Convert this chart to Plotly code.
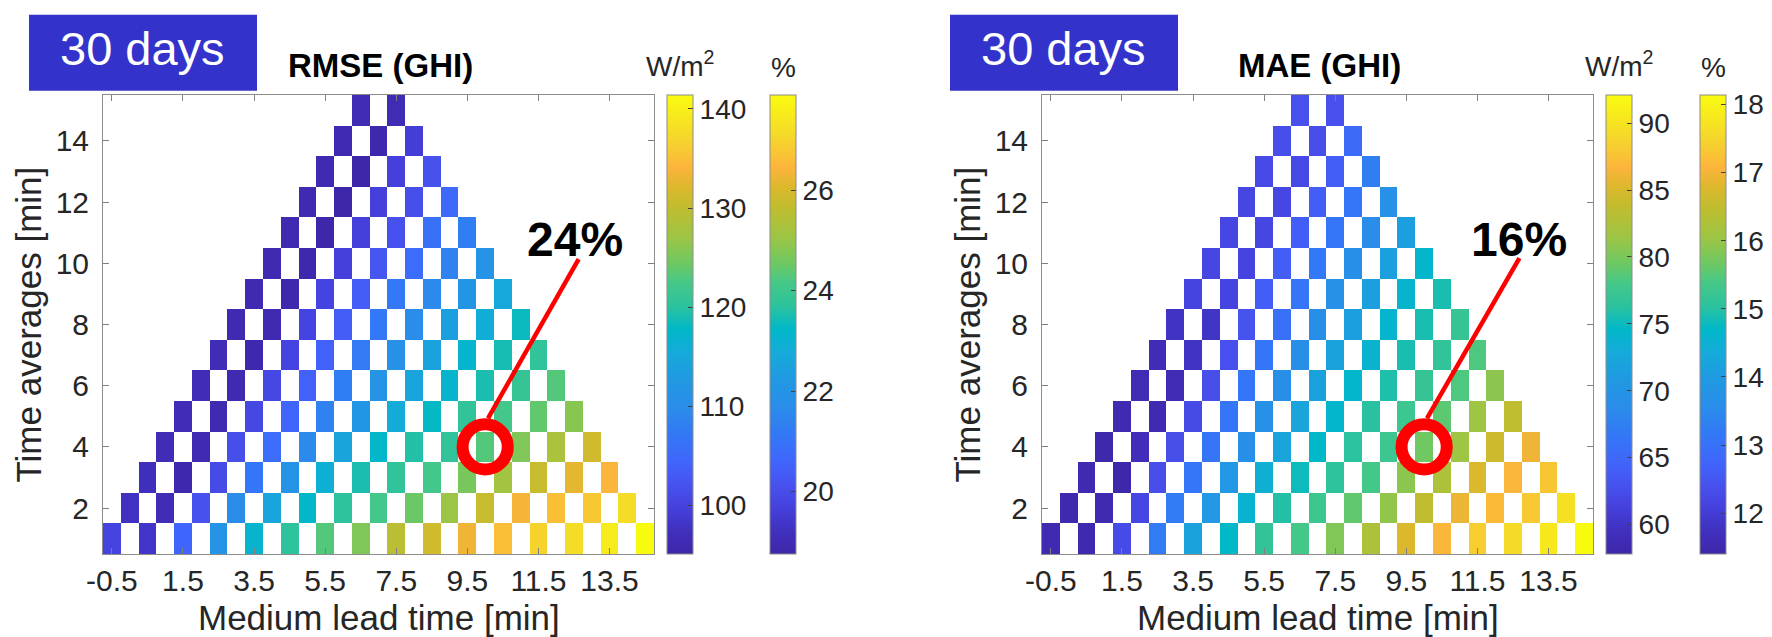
import plotly.graph_objects as go

W, H = 1772, 637

# ---------------- data ----------------
lead_times = [-0.5, 0.0, 0.5, 1.0, 1.5, 2.0, 2.5, 3.0, 3.5, 4.0, 4.5, 5.0, 5.5, 6.0, 6.5,
              7.0, 7.5, 8.0, 8.5, 9.0, 9.5, 10.0, 10.5, 11.0, 11.5, 12.0, 12.5, 13.0, 13.5,
              14.0, 14.5]
time_avgs = [1, 2, 3, 4, 5, 6, 7, 8, 9, 10, 11, 12, 13, 14, 15]
x_ticks = [-0.5, 1.5, 3.5, 5.5, 7.5, 9.5, 11.5, 13.5]
x_tick_text = ["-0.5", "1.5", "3.5", "5.5", "7.5", "9.5", "11.5", "13.5"]
y_ticks = [2, 4, 6, 8, 10, 12, 14]

# RMSE (W/m2); row i = time average i+1, listed left to right (checkerboard cells only)
rmse_rows = [
    [100.2, 98.3, 104.4, 111.3, 117.1, 120.3, 123.1, 125.4, 129.4, 131.2, 133.3, 134.9, 136.8, 137.7, 139.5, 141.4],
    [97.6, 96.7, 102.0, 109.9, 114.5, 117.6, 120.3, 122.2, 124.3, 127.0, 130.5, 133.5, 134.9, 135.8, 137.7],
    [97.2, 95.6, 101.1, 106.7, 111.3, 116.2, 119.2, 120.6, 122.2, 125.0, 127.5, 130.5, 132.6, 134.2],
    [96.7, 96.0, 101.6, 105.5, 109.5, 114.5, 117.6, 119.6, 120.6, 123.1, 125.4, 128.2, 131.2],
    [96.7, 96.0, 100.7, 104.4, 108.5, 111.8, 115.5, 118.0, 120.6, 122.2, 123.8, 125.9],
    [96.7, 96.0, 100.7, 103.9, 108.1, 111.3, 114.5, 117.1, 119.2, 121.0, 123.1],
    [96.7, 95.6, 100.2, 103.9, 107.6, 110.8, 114.1, 117.1, 118.9, 120.6],
    [96.0, 96.0, 100.2, 103.4, 107.1, 109.9, 113.6, 115.9, 118.3],
    [96.0, 95.6, 100.2, 103.4, 107.1, 109.5, 111.8, 115.0],
    [96.0, 95.6, 99.7, 102.5, 105.5, 108.5, 111.3],
    [96.0, 95.3, 99.7, 102.0, 106.0, 108.1],
    [96.0, 95.1, 99.7, 101.6, 105.1],
    [96.0, 95.1, 99.7, 102.0],
    [96.0, 95.6, 99.3],
    [96.4, 96.4],
]

# MAE (W/m2)
mae_rows = [
    [58.5, 58.3, 62.3, 67.1, 71.9, 74.6, 76.7, 77.9, 80.3, 82.5, 85.2, 86.8, 88.3, 89.2, 90.4, 92.1],
    [58.3, 58.5, 61.9, 67.1, 70.5, 73.9, 76.0, 77.4, 79.1, 81.0, 83.7, 85.8, 87.1, 88.0, 89.7],
    [58.5, 58.0, 62.6, 66.5, 70.5, 73.4, 75.1, 76.5, 77.9, 80.8, 82.5, 85.2, 86.8, 87.8],
    [58.1, 59.2, 62.6, 66.5, 69.1, 72.2, 74.6, 76.3, 77.4, 79.6, 81.5, 84.4, 86.1],
    [58.5, 58.5, 62.3, 66.5, 69.5, 72.2, 74.3, 76.2, 77.4, 78.9, 81.5, 83.7],
    [58.8, 58.8, 62.6, 66.5, 69.1, 71.9, 74.3, 75.8, 77.0, 78.4, 80.8],
    [59.0, 59.9, 62.8, 66.5, 69.1, 71.9, 73.9, 75.6, 76.7, 78.4],
    [59.9, 60.0, 63.0, 66.0, 69.1, 71.5, 74.1, 75.6, 77.0],
    [61.6, 61.6, 64.0, 66.5, 69.5, 71.5, 74.1, 75.6],
    [61.9, 61.6, 64.0, 66.7, 69.1, 71.5, 74.3],
    [61.9, 61.9, 64.0, 66.5, 68.8, 71.5],
    [61.9, 61.9, 64.0, 66.5, 69.5],
    [62.1, 62.1, 64.0, 67.4],
    [62.6, 62.6, 65.3],
    [62.8, 62.8],
]

# colour-bar limits
rmse_wm2_range = [95.1, 141.4]
rmse_pct_range = [18.76, 27.89]
mae_wm2_range = [57.8, 92.1]
mae_pct_range = [11.40, 18.14]
rmse_wm2_ticks = [100, 110, 120, 130, 140]
rmse_pct_ticks = [20, 22, 24, 26]
mae_wm2_ticks = [60, 65, 70, 75, 80, 85, 90]
mae_pct_ticks = [12, 13, 14, 15, 16, 17, 18]

highlight_cell = (10, 4)
labels = ["24%", "16%"]
titles = ["RMSE (GHI)", "MAE (GHI)"]
x_title = "Medium lead time [min]"
y_title = "Time averages [min]"

# ---------------- style ----------------
FONT = "Liberation Sans, Arial, Helvetica, sans-serif"
TXT = "#262626"
parula = [
    [0.00, "#3E26A8"], [0.05, "#4030BE"], [0.10, "#4540DC"], [0.15, "#4752EE"],
    [0.20, "#4065FC"], [0.26, "#3378F6"], [0.32, "#2A8DEA"], [0.38, "#2099E2"],
    [0.44, "#15ABD9"], [0.49, "#00B8C8"], [0.54, "#2CC29E"], [0.59, "#45C888"],
    [0.63, "#6BC865"], [0.69, "#9DC544"], [0.76, "#C3BC2E"], [0.80, "#DDB82C"],
    [0.84, "#FCB43C"], [0.91, "#F5D82A"], [1.00, "#F9FB0F"],
]

def px_x(p):
    return p / W

def px_y(p):
    return 1 - p / H

def grid(rows):
    z = [[None] * len(lead_times) for _ in time_avgs]
    for r, vals in enumerate(rows):
        for k, v in enumerate(vals):
            z[r][r + 2 * k] = v
    return z

panels = [
    dict(rows=rmse_rows, wr=rmse_wm2_range, pr=rmse_pct_range, wt=rmse_wm2_ticks, pt=rmse_pct_ticks,
         left=95, cb1=659, cb2=762, box=21, lab=(12.54, 10.79), line_end=(12.63, 10.14)),
    dict(rows=mae_rows, wr=mae_wm2_range, pr=mae_pct_range, wt=mae_wm2_ticks, pt=mae_pct_ticks,
         left=1034, cb1=1598, cb2=1692, box=942, lab=(12.67, 10.79), line_end=(12.68, 10.17)),
]

PW = 551
TOP, BOT = 87, 546

fig = go.Figure()
shapes = []
annotations = []

for i, p in enumerate(panels):
    xa = "x" if i == 0 else "x2"
    ya = "y" if i == 0 else "y2"
    cbar_common = dict(
        thickness=26, thicknessmode="pixels", len=(BOT - TOP) / H, lenmode="fraction",
        y=px_y(BOT), yanchor="bottom", xanchor="left", xpad=0, ypad=0,
        outlinewidth=1, outlinecolor="#8c8c8c", ticks="inside", ticklen=5,
        tickcolor="#404040", tickprefix="\u2009",
        tickfont=dict(family=FONT, size=28, color=TXT),
    )
    fig.add_trace(go.Heatmap(
        x=lead_times, y=time_avgs, z=grid(p["rows"]), xaxis=xa, yaxis=ya,
        colorscale=parula, zmin=p["wr"][0], zmax=p["wr"][1], hoverongaps=False,
        colorbar=dict(x=px_x(p["cb1"]), tickvals=p["wt"], **cbar_common),
    ))
    fig.add_trace(go.Scatter(
        x=[None, None], y=[None, None], xaxis=xa, yaxis=ya, mode="markers", showlegend=False,
        marker=dict(color=p["pr"], cmin=p["pr"][0], cmax=p["pr"][1], colorscale=parula,
                    showscale=True,
                    colorbar=dict(x=px_x(p["cb2"]), tickvals=p["pt"], **cbar_common)),
    ))

    fig.layout["xaxis" if i == 0 else "xaxis2"] = dict(
        domain=[px_x(p["left"]), px_x(p["left"] + PW)], range=[-0.75, 14.75], anchor=ya,
        tickvals=x_ticks, ticktext=x_tick_text, ticks="inside", ticklen=6, tickcolor="#7f7f7f",
        showline=True, linecolor="#8c8c8c", linewidth=1, mirror="allticks",
        showgrid=False, zeroline=False, ticklabelstandoff=0,
        tickfont=dict(family=FONT, size=30, color=TXT),
    )
    fig.layout["yaxis" if i == 0 else "yaxis2"] = dict(
        domain=[px_y(BOT), px_y(TOP)], range=[0.5, 15.5], anchor=xa,
        tickvals=y_ticks, ticks="inside", ticklen=6, tickcolor="#7f7f7f",
        showline=True, linecolor="#8c8c8c", linewidth=1, mirror="allticks",
        showgrid=False, zeroline=False, ticklabelstandoff=7,
        tickfont=dict(family=FONT, size=30, color=TXT),
    )

    # axis titles
    annotations.append(dict(text=x_title, xref="paper", yref="paper",
                            x=px_x(p["left"] + PW / 2), y=px_y(609), xanchor="center", yanchor="middle",
                            showarrow=False, font=dict(family=FONT, size=35, color=TXT)))
    annotations.append(dict(text=y_title, xref="paper", yref="paper", textangle=-90,
                            x=px_x(p["left"] - 75), y=px_y((TOP + BOT) / 2), xanchor="center", yanchor="middle",
                            showarrow=False, font=dict(family=FONT, size=35, color=TXT)))

    # "30 days" box
    shapes.append(dict(type="rect", xref="paper", yref="paper",
                       x0=px_x(p["box"]), x1=px_x(p["box"] + 228), y0=px_y(82.7), y1=px_y(6.7),
                       fillcolor="#3333CC", line=dict(width=0), layer="below"))
    annotations.append(dict(text="30 days", xref="paper", yref="paper",
                            x=px_x(p["box"] + 113), y=px_y(41), xanchor="center", yanchor="middle",
                            showarrow=False, font=dict(family=FONT, size=47, color="white")))
    # panel title
    annotations.append(dict(text="<b>%s</b>" % titles[i], xref="paper", yref="paper",
                            x=px_x(p["left"] + PW / 2 + 2), y=px_y(57), xanchor="center", yanchor="middle",
                            showarrow=False, font=dict(family=FONT, size=33, color="black")))
    # colour-bar units
    annotations.append(dict(text="W/m<sup>2</sup>", xref="paper", yref="paper",
                            x=px_x(p["cb1"] + 13), y=px_y(56), xanchor="center", yanchor="middle",
                            showarrow=False, font=dict(family=FONT, size=28, color=TXT)))
    annotations.append(dict(text="%", xref="paper", yref="paper",
                            x=px_x(p["cb2"] + 13), y=px_y(59), xanchor="center", yanchor="middle",
                            showarrow=False, font=dict(family=FONT, size=28, color=TXT)))
    # percentage label, pointer line and ring
    annotations.append(dict(text="<b>%s</b>" % labels[i], xref=xa, yref=ya,
                            x=p["lab"][0], y=p["lab"][1], xanchor="center", yanchor="middle",
                            showarrow=False, font=dict(family=FONT, size=48, color="black")))
    shapes.append(dict(type="line", xref=xa, yref=ya,
                       x0=highlight_cell[0] + 0.08, y0=highlight_cell[1] + 0.93,
                       x1=p["line_end"][0], y1=p["line_end"][1],
                       line=dict(color="#FF0000", width=4.5)))
    shapes.append(dict(type="circle", xref=xa, yref=ya, xsizemode="pixel", ysizemode="pixel",
                       xanchor=highlight_cell[0], yanchor=highlight_cell[1],
                       x0=-22.6, x1=22.6, y0=-22.6, y1=22.6,
                       line=dict(color="#FF0000", width=12), fillcolor="rgba(0,0,0,0)"))

fig.update_layout(
    width=W, height=H, autosize=False,
    margin=dict(l=0, r=0, t=0, b=0),
    paper_bgcolor="white", plot_bgcolor="white",
    showlegend=False, shapes=shapes, annotations=annotations,
    font=dict(family=FONT),
)
fig.update_xaxes(automargin=False)
fig.update_yaxes(automargin=False)

fig.write_html("out.html")
